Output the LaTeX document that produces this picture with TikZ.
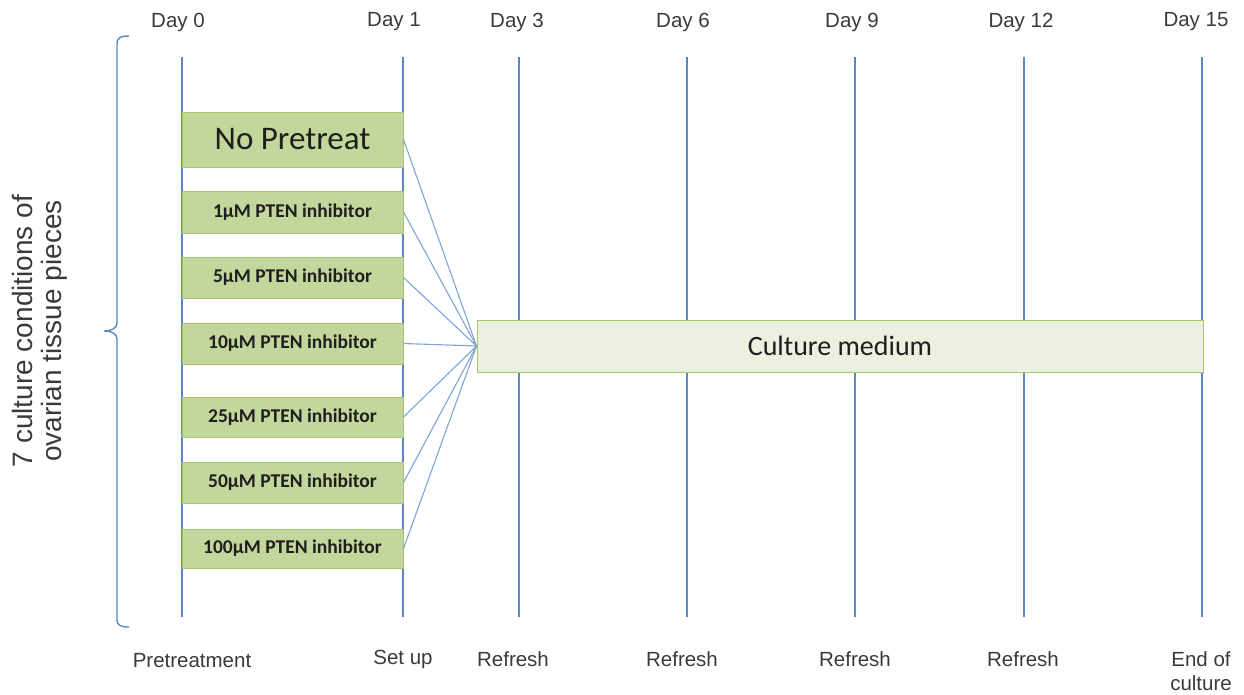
\documentclass[tikz,border=0pt]{standalone}
\usepackage{fontspec}
\setmainfont{Liberation Sans}
\newfontfamily\calib{Carlito}
\definecolor{lineblue}{HTML}{5B87C5}
\definecolor{connblue}{HTML}{7EA3D6}
\definecolor{boxfill}{HTML}{C3D69B}
\definecolor{boxdraw}{HTML}{A9C46C}
\definecolor{medfill}{HTML}{EBF1DE}
\definecolor{labgray}{HTML}{3A3A3A}
\definecolor{boxtext}{HTML}{1E1E1E}
\begin{document}
\begin{tikzpicture}[x=1pt,y=-1pt,
  dayline/.style={draw=lineblue,line width=1.8pt},
  conn/.style={draw=connblue,line width=1.1pt},
  daylab/.style={text=labgray,font=\fontsize{20.5}{22}\selectfont,inner sep=0pt,anchor=center},
  condbox/.style={draw=boxdraw,fill=boxfill,line width=1pt,minimum width=221pt,inner sep=0pt,
    text=boxtext,font=\calib\bfseries\fontsize{19.5}{21}\selectfont},
  medbox/.style={draw=boxdraw,fill=medfill,line width=1pt,minimum width=726pt,minimum height=52pt,inner sep=0pt,
    text=boxtext,font=\calib\fontsize{28}{30}\selectfont}]
\useasboundingbox (0,0) rectangle (1244,694);
% vertical day lines
\foreach \n/\x in {d0/182,d1/403,d3/519,d6/687,d9/855,d12/1024,d15/1202}{
  \coordinate (\n t) at (\x,57);
  \coordinate (\n b) at (\x,617);
  \path[dayline] (\n t) -- (\n b);
}
% day labels
\node[daylab] (l0) at (178,22) {Day 0};
\node[daylab] (l1) at (394,22) {Day 1};
\node[daylab] (l3) at (517,22) {Day 3};
\node[daylab] (l6) at (683,22) {Day 6};
\node[daylab] (l9) at (852,22) {Day 9};
\node[daylab] (l12) at (1021,22) {Day 12};
\node[daylab] (l15) at (1196,22) {Day 15};
% bottom labels
\node[daylab] (b0) at (192,661) {Pretreatment};
\node[daylab] (b1) at (403,659) {Set up};
\node[daylab] (b3) at (513,659) {Refresh};
\node[daylab] (b6) at (682,659) {Refresh};
\node[daylab] (b9) at (855,659) {Refresh};
\node[daylab] (b12) at (1023,659) {Refresh};
\node[daylab,align=center,font=\fontsize{20.5}{24}\selectfont] (b15) at (1201,671) {End of\\culture};
% condition boxes
\node[condbox,minimum height=55pt,font=\calib\fontsize{33}{35}\selectfont] (c0) at (292.5,139.5) {No Pretreat};
\node[condbox,minimum height=42pt] (c1) at (292.5,212) {1µM PTEN inhibitor};
\node[condbox,minimum height=41pt] (c5) at (292.5,277.5) {5µM PTEN inhibitor};
\node[condbox,minimum height=41pt] (c10) at (292.5,343.5) {10µM PTEN inhibitor};
\node[condbox,minimum height=40pt] (c25) at (292.5,417) {25µM PTEN inhibitor};
\node[condbox,minimum height=41pt] (c50) at (292.5,482.5) {50µM PTEN inhibitor};
\node[condbox,minimum height=39pt] (c100) at (292.5,548.5) {100µM PTEN inhibitor};
% culture medium
\node[medbox] (cm) at (840,346) {Culture medium};
% connectors
\foreach \c in {c0,c1,c5,c10,c25,c50,c100}{
  \path[conn] (\c.east) -- (cm.west);
}
% brace
\draw[lineblue,line width=1.4pt] (129,36) .. controls (120,36) and (117,38) .. (117,44) -- (117,323)
  .. controls (117,328) and (112,331) .. (104,331)
  .. controls (112,331) and (117,334) .. (117,339) -- (117,620)
  .. controls (117,625) and (120,627) .. (129,627);
% side label
\node[text=labgray,rotate=90,align=center,inner sep=0pt,font=\fontsize{28}{29.5}\selectfont] (side) at (40,331)
  {7 culture conditions of\\ovarian tissue pieces};
\end{tikzpicture}
\end{document}
